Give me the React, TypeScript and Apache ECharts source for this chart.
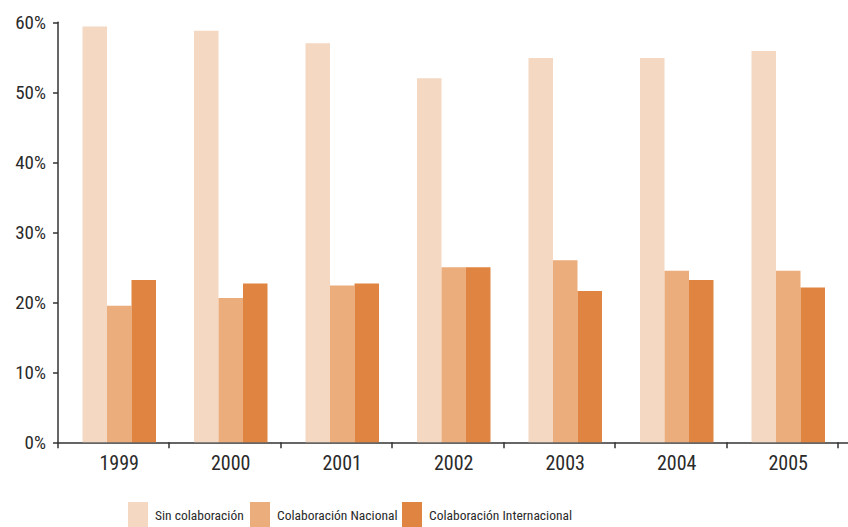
import React, { useEffect, useRef } from "react";
import * as echarts from "echarts";

const years = ["1999", "2000", "2001", "2002", "2003", "2004", "2005"];
const sinColaboracion = [59.4, 58.8, 57.0, 52.0, 54.9, 54.9, 55.9];
const colaboracionNacional = [19.5, 20.6, 22.4, 25.0, 26.0, 24.5, 24.5];
const colaboracionInternacional = [23.2, 22.7, 22.7, 25.0, 21.6, 23.2, 22.1];
const seriesNames = ["Sin colaboración", "Colaboración Nacional", "Colaboración Internacional"];
const yTicks = { min: 0, max: 60, interval: 10 };

const FONT = '"Roboto Condensed", "Liberation Sans Narrow", sans-serif';
const COLORS = ["#F5D8C2", "#EBAD7C", "#E08541"];
const TEXT = "#2a2a2a";

export default function App() {
  const ref = useRef<HTMLDivElement>(null);
  useEffect(() => {
    if (!ref.current) return;
    const chart = echarts.init(ref.current, undefined, { renderer: "svg" });
    const top = 22.3;
    const bottom = 527 - 442.3;
    const plotW = 780.5;
    const hiddenY = (gridIndex: number) => ({
      type: "value",
      gridIndex,
      ...yTicks,
      show: false,
      splitLine: { show: false },
    });
    const values = [sinColaboracion, colaboracionNacional, colaboracionInternacional];
    chart.setOption({
      animation: false,
      grid: [
        { left: 58, right: 0, top, bottom },
        { left: 57.7, width: plotW, top, bottom },
        { left: 63.5, width: plotW, top, bottom },
      ],
      xAxis: [
        {
          type: "category",
          gridIndex: 0,
          data: years,
          axisLine: { show: true, lineStyle: { color: "#333", width: 1.5 } },
          axisTick: { show: false },
          axisLabel: { show: false },
          splitLine: { show: false },
        },
        {
          type: "category",
          gridIndex: 1,
          data: years,
          axisLine: { show: false },
          axisTick: { show: true, length: 6, lineStyle: { color: "#333", width: 1.5 } },
          axisLabel: { show: false },
          splitLine: { show: false },
        },
        {
          type: "category",
          gridIndex: 2,
          data: years,
          axisLine: { show: false },
          axisTick: { show: false },
          axisLabel: {
            show: true,
            margin: 11,
            color: TEXT,
            fontFamily: FONT,
            fontSize: 20,
          },
          splitLine: { show: false },
        },
      ],
      yAxis: [
        {
          type: "value",
          gridIndex: 0,
          ...yTicks,
          axisLine: { show: true, lineStyle: { color: "#333", width: 1.5 } },
          axisTick: { show: true, length: 5, lineStyle: { color: "#333", width: 1.5 } },
          axisLabel: {
            formatter: "{value}%",
            color: TEXT,
            fontFamily: FONT,
            fontSize: 19,
            margin: 12,
          },
          splitLine: { show: false },
        },
        hiddenY(1),
        hiddenY(2),
      ],
      legend: seriesNames.map((name, i) => ({
        data: [name],
        left: [128, 250, 402][i],
        top: 502,
        padding: 0,
        itemWidth: 20,
        itemHeight: 26,
        icon: "rect",
        selectedMode: false,
        textStyle: { color: TEXT, fontFamily: FONT, fontSize: 13.5, padding: [0, 0, 0, 2] },
      })),
      series: seriesNames.map((name, i) => ({
        name,
        type: "bar",
        xAxisIndex: 2,
        yAxisIndex: 2,
        data: values[i],
        barWidth: 24.5,
        barGap: "0%",
        itemStyle: { color: COLORS[i] },
      })),
    });
    return () => chart.dispose();
  }, []);
  return (
    <div
      ref={ref}
      style={{ position: "absolute", left: 0, top: 0, width: 848, height: 527, background: "#fff" }}
    />
  );
}
